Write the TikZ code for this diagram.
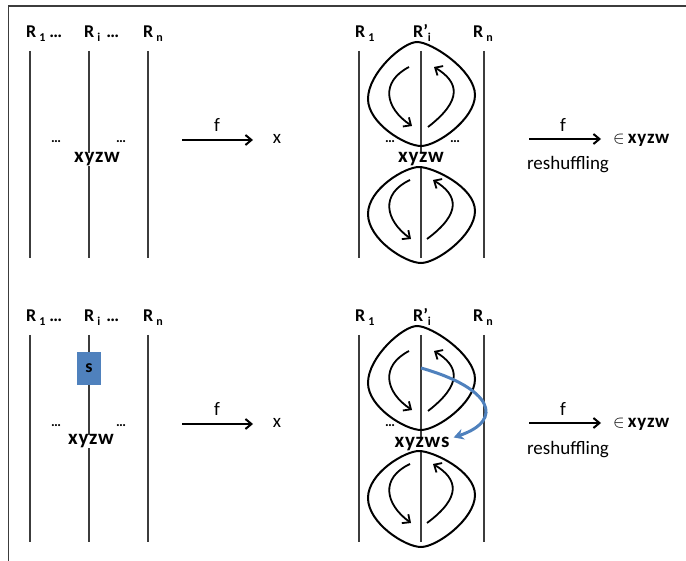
\documentclass[tikz,border=0pt]{standalone}
\usepackage{fontspec}
\setmainfont{Carlito}
\newfontfamily\wordfont{Carlito}[LetterSpace=4]
\usetikzlibrary{arrows.meta}
\definecolor{railgray}{RGB}{60,60,60}
\definecolor{sblue}{RGB}{79,129,189}
\newcommand{\lowidx}[1]{\raisebox{-0.45ex}{\fontsize{12}{12}\selectfont #1}}
\tikzset{
  rail/.style={draw=railgray, line width=1.2pt},
  frame/.style={draw=railgray, line width=1.4pt},
  loopline/.style={draw=black, line width=2pt},
  turn/.style={draw=black, line width=1.8pt, -{Straight Barb[length=6pt,width=11pt]}},
  maparrow/.style={draw=black, line width=2pt, -{Straight Barb[length=6pt,width=10pt]}},
  lbl/.style={anchor=base west, inner sep=0pt, font=\fontsize{18}{18}\selectfont\bfseries},
  word/.style={anchor=base, inner sep=0pt, font=\fontsize{21}{21}\wordfont\bfseries},
  plain/.style={anchor=base, inner sep=0pt, font=\fontsize{19}{19}\selectfont},
  dots/.style={anchor=base, inner sep=0pt, font=\fontsize{14}{14}\selectfont\bfseries},
}
\begin{document}
\begin{tikzpicture}[x=1pt,y=-1pt]
\useasboundingbox (0,0) rectangle (686,561);
% outer frame (top and left edges)
\draw[frame] (686,6) -- (8.5,6) -- (8.5,561);

\foreach \dy/\p in {0/a,284/b}{
\begin{scope}[yshift=-\dy pt]
  % ---- left panel: rails R_1 ... R_i ... R_n
  \coordinate (\p L1t) at (30,51);  \coordinate (\p L1b) at (30,258);
  \coordinate (\p L2t) at (89,51);  \coordinate (\p L2b) at (89,258);
  \coordinate (\p L3t) at (148,51); \coordinate (\p L3b) at (148,258);
  \draw[rail] (\p L1t) -- (\p L1b);
  \draw[rail] (\p L2t) -- (\p L2b);
  \draw[rail] (\p L3t) -- (\p L3b);
  \node[lbl] (\p lr1) at (26,38) {R\,\lowidx{1}\hspace{4pt}…};
  \node[lbl] (\p lri) at (84,38) {R\,\lowidx{i}\hspace{6pt}…};
  \node[lbl] (\p lrn) at (143,38) {R\,\lowidx{n}};
  \node[dots] (\p ld1) at (56,143) {…};
  \node[dots] (\p ld2) at (121,143) {…};
  % map f
  \node[plain] (\p f1) at (217,132) {f};
  \coordinate (\p m1s) at (182,140); \coordinate (\p m1e) at (253,140);
  \draw[maparrow] (\p m1s) -- (\p m1e);
  \node[plain] (\p x) at (277,144) {x};
  % ---- right panel: rails R_1, R'_i, R_n with braiding loops
  \coordinate (\p r1t) at (359,51);  \coordinate (\p r1b) at (359,258);
  \coordinate (\p r2t) at (421,51);  \coordinate (\p r2b) at (421,258);
  \coordinate (\p r3t) at (484,51);  \coordinate (\p r3b) at (484,258);
  \draw[rail] (\p r1t) -- (\p r1b);
  \draw[rail] (\p r2t) -- (\p r2b);
  \draw[rail] (\p r3t) -- (\p r3b);
  \node[lbl] (\p rr1) at (355,38) {R\,\lowidx{1}};
  \node[lbl] (\p rri) at (413,38) {R’\lowidx{i}};
  \node[lbl] (\p rrn) at (473,38) {R\,\lowidx{n}};
  % upper loop
  \draw[loopline] (417,42) .. controls (403,42) and (368,73) .. (368,99)
     .. controls (368,123) and (405,146) .. (421,146)
     .. controls (437,146) and (475,119) .. (475,95)
     .. controls (475,71) and (432,42) .. cycle;
  \coordinate (\p u1s) at (409,67);  \coordinate (\p u1e) at (412,126);
  \coordinate (\p u2s) at (428,127); \coordinate (\p u2e) at (434,67);
  \draw[turn] (\p u1s) .. controls (380,82) and (385,108) .. (\p u1e);
  \draw[turn] (\p u2s) .. controls (463,100) and (459,82) .. (\p u2e);
  % lower loop
  \draw[loopline] (419,167) .. controls (405,167) and (368,189) .. (368,214)
     .. controls (368,239) and (405,263) .. (421,263)
     .. controls (437,263) and (475,235) .. (475,211)
     .. controls (475,187) and (433,167) .. cycle;
  \coordinate (\p d1s) at (410,180); \coordinate (\p d1e) at (411,239);
  \coordinate (\p d2s) at (427,239); \coordinate (\p d2e) at (433,180);
  \draw[turn] (\p d1s) .. controls (380,194) and (385,220) .. (\p d1e);
  \draw[turn] (\p d2s) .. controls (462,213) and (458,195) .. (\p d2e);
  \node[dots] (\p rd1) at (390,143) {…};
  % reshuffling map
  \node[plain] (\p f2) at (563,132) {f};
  \coordinate (\p m2s) at (529,139); \coordinate (\p m2e) at (601,139);
  \draw[maparrow] (\p m2s) -- (\p m2e);
  \node[anchor=base west, inner sep=0pt, font=\fontsize{19}{19}\selectfont] (\p in) at (613,144) {$\in$\,{\wordfont\bfseries xyzw}};
  \node[plain] (\p resh) at (568,170) {reshuffling};
\end{scope}
}
% top panel words
\node[word, fill=white, inner xsep=1pt] (tw1) at (97,163) {xyzw};
\node[dots] (trd2) at (455,143) {…};
\node[word, fill=white, inner xsep=1pt] (tw2) at (421,163) {xyzw};
% bottom panel: inserted element s
\node[fill=sblue, minimum width=24pt, minimum height=33pt, inner sep=0pt,
      font=\fontsize{18}{18}\selectfont\bfseries] (sbox) at (89,368.5) {s};
\node[word, fill=white, inner xsep=1pt] (bw1) at (91,445) {xyzw};
\node[word, fill=white, inner xsep=1pt] (bw2) at (422,447) {xyzws};
\coordinate (sfrom) at (421,368);
\draw[draw=sblue, line width=3pt, -{Stealth[length=10pt,width=11pt]}]
  (sfrom) .. controls (492,388) and (505,420) .. ([xshift=3pt,yshift=-1pt]bw2.north east);
\end{tikzpicture}
\end{document}
